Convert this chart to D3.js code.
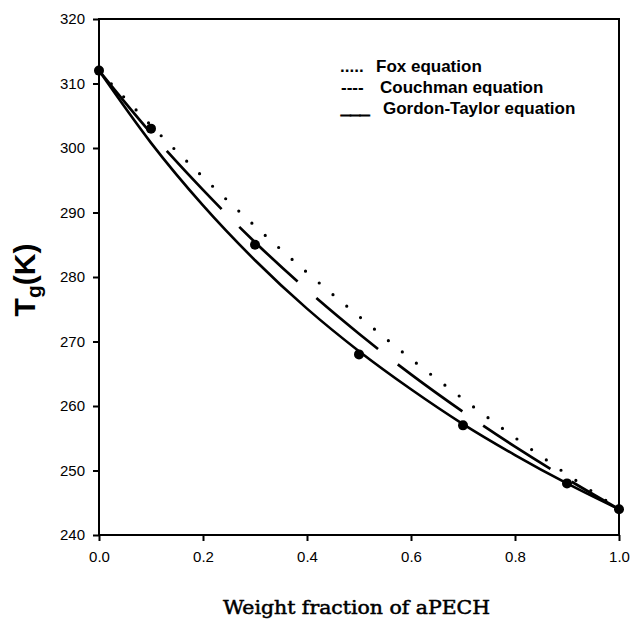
<!DOCTYPE html>
<html>
<head>
<meta charset="utf-8">
<script src="https://cdn.jsdelivr.net/npm/d3@7"></script>
<style>
  body { margin: 0; background: #fff; }
  svg { display: block; }
</style>
</head>
<body>
<div id="chart"></div>
<script>
// weight fraction of aPECH
var fractions = [0, 0.1, 0.2, 0.3, 0.4, 0.5, 0.6, 0.7, 0.8, 0.9, 1.0];
// curves (Tg in K)
var foxTg = [312, 303.5, 295.5, 287.9, 280.7, 273.9, 267.3, 261.1, 255.1, 249.4, 244];
var couchmanTg = [312, 302.3, 293.5, 285.4, 278.0, 271.2, 264.9, 259.1, 253.7, 248.7, 244];
var gordonTaylorTg = [312, 300.8, 291.1, 282.6, 275.1, 268.5, 262.6, 257.2, 252.4, 248.0, 244];
// measured points
var measuredW = [0, 0.1, 0.3, 0.5, 0.7, 0.9, 1.0];
var measuredTg = [312, 303, 285, 268, 257, 248, 244];

var xTicks = [0, 0.2, 0.4, 0.6, 0.8, 1.0];
var yTicks = [240, 250, 260, 270, 280, 290, 300, 310, 320];

var legendMarks = [".....", "----", "___"];
var legendLabels = ["Fox equation", "Couchman equation", "Gordon-Taylor equation"];

var width = 630, height = 620;
var svg = d3.select("#chart").append("svg").attr("width", width).attr("height", height);

var x = d3.scaleLinear().domain([0, 1]).range([99, 619]);
var y = d3.scaleLinear().domain([240, 320]).range([535, 19]);

// axes
var xAxis = svg.append("g").attr("transform", "translate(0,535)")
  .call(d3.axisBottom(x).tickValues(xTicks).tickFormat(d3.format(".1f")).tickSize(6).tickPadding(10));
var yAxis = svg.append("g").attr("transform", "translate(99,0)")
  .call(d3.axisLeft(y).tickValues(yTicks).tickSize(6).tickPadding(8));
[xAxis, yAxis].forEach(function(a) {
  a.select(".domain").remove();
  a.selectAll("line").attr("stroke", "#000").attr("stroke-width", 2);
  a.selectAll("text").attr("font-family", "Arial, 'Liberation Sans', sans-serif")
    .attr("font-size", "15px").attr("fill", "#000");
});

// frame
svg.append("rect").attr("x", x(0)).attr("y", y(320))
  .attr("width", x(1) - x(0)).attr("height", y(240) - y(320))
  .attr("fill", "none").attr("stroke", "#000").attr("stroke-width", 2);

var line = d3.line().x(function(d) { return x(d[0]); }).y(function(d) { return y(d[1]); })
  .curve(d3.curveMonotoneX);
function pairs(vals) { return fractions.map(function(f, i) { return [f, vals[i]]; }); }

svg.append("path").datum(pairs(foxTg)).attr("d", line)
  .attr("fill", "none").attr("stroke", "#000").attr("stroke-width", 3.2)
  .attr("stroke-linecap", "round").attr("stroke-dasharray", "0,18");
svg.append("path").datum(pairs(couchmanTg)).attr("d", line)
  .attr("fill", "none").attr("stroke", "#000").attr("stroke-width", 2.7)
  .attr("stroke-dasharray", "80,25");
svg.append("path").datum(pairs(gordonTaylorTg)).attr("d", line)
  .attr("fill", "none").attr("stroke", "#000").attr("stroke-width", 2.6);

svg.selectAll("circle.pt").data(measuredW).enter().append("circle")
  .attr("class", "pt")
  .attr("cx", function(d) { return x(d); })
  .attr("cy", function(d, i) { return y(measuredTg[i]); })
  .attr("r", 5).attr("fill", "#000");

// legend
var leg = svg.append("g").attr("font-family", "Arial, 'Liberation Sans', sans-serif")
  .attr("font-weight", "bold").attr("font-size", "17px").attr("fill", "#000");
var markX = [340, 341, 341], labelX = [376, 380, 383], rowY = [72, 93, 114];
legendLabels.forEach(function(l, i) {
  leg.append("text").attr("x", markX[i]).attr("y", rowY[i])
    .attr("stroke", i === 2 ? "#000" : "none").attr("stroke-width", 1.2)
    .text(legendMarks[i]);
  leg.append("text").attr("x", labelX[i]).attr("y", rowY[i]).text(l);
});

// axis titles
var yt = svg.append("text").attr("transform", "translate(35,280) rotate(-90)")
  .attr("text-anchor", "middle").attr("font-family", "Arial, 'Liberation Sans', sans-serif")
  .attr("font-weight", "bold").attr("font-size", "30px").attr("fill", "#000");
yt.append("tspan").text("T");
yt.append("tspan").attr("font-size", "21px").attr("dy", 6).text("g");
yt.append("tspan").attr("dy", -6).text("(K)");

svg.append("text").attr("x", 223).attr("y", 614)
  .attr("font-family", "'DejaVu Serif', serif").attr("font-size", "18px").attr("fill", "#000")
  .attr("stroke", "#000").attr("stroke-width", 0.5)
  .attr("textLength", 267).attr("lengthAdjust", "spacingAndGlyphs")
  .text("Weight fraction of aPECH");
</script>
</body>
</html>
